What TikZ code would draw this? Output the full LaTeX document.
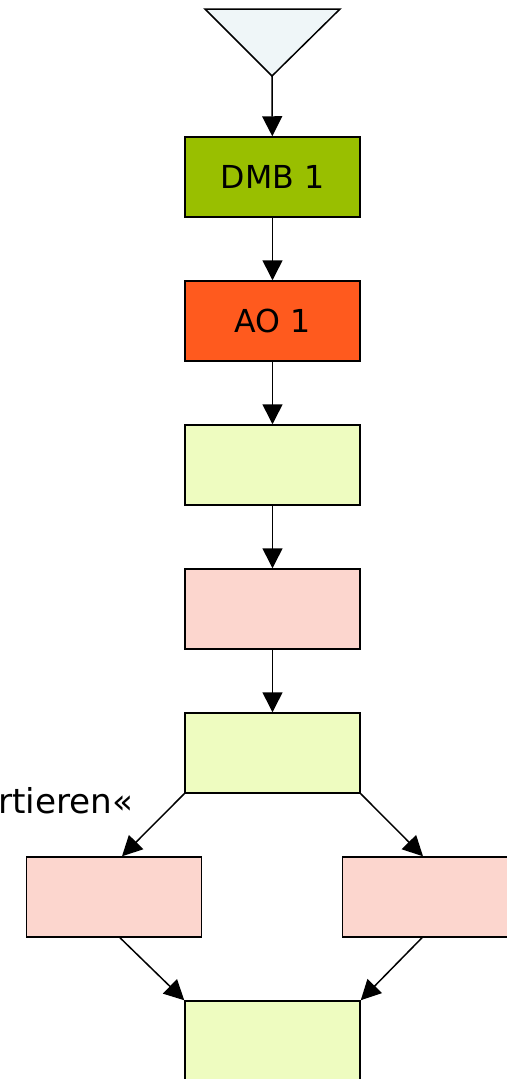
\documentclass[tikz,border=0pt]{standalone}
\usepackage{fontspec}
\setmainfont{DejaVu Sans}
\usetikzlibrary{arrows.meta, positioning}

\definecolor{dmbgreen}{HTML}{99BF00}
\definecolor{aored}{HTML}{FF5A1E}
\definecolor{palegreen}{HTML}{EEFCC0}
\definecolor{palered}{HTML}{FCD6CE}
\definecolor{paleblue}{HTML}{EFF6F8}

\begin{document}
\begin{tikzpicture}[>={Triangle[length=0.4cm, width=0.4cm]},
box/.style={rectangle, draw=black, line width=0.85pt, minimum width=3.5cm, minimum height=1.6cm, font=\fontsize{18}{20}\selectfont},
flow/.style={->, line width=0.85pt}]
\tikzstyle{okbox}=[box, fill=palegreen]
\tikzstyle{failbox}=[box, fill=palered]
\useasboundingbox (0,0) rectangle (10.14,-21.58);
\clip (0,0) rectangle (10.14,-21.58);
      \def\fy{2.88}
      \def\fx{5.45}
%start
\fill[paleblue] (4.1,-0.18) -- (6.8,-0.18) -- (5.44,-1.52) -- cycle;
\draw[line width=0.85pt] (4.1,-0.18) -- (6.8,-0.18) -- (5.44,-1.52) -- cycle;
\coordinate (start) at (5.44,-1.52);
%chain
\node[box, fill=dmbgreen] (dmb) at (\fx,-3.54) {DMB 1};
\node[box, fill=aored] (ao) at (\fx,-3.54-1*\fy) {AO 1};
\node[okbox] (check) at (\fx,-3.54-2*\fy) {};
\node[failbox] (fail) at (\fx,-3.54-3*\fy) {};
\node[okbox] (split) at (\fx,-3.54-4*\fy) {};
\node[failbox] (left) at (2.28,-3.54-5*\fy) {};
\node[failbox] (right) at (8.6,-3.54-5*\fy) {};
\node[okbox] (join) at (\fx,-3.54-6*\fy) {};
\node[font=\fontsize{19.5}{22}\selectfont, anchor=base east, inner sep=0pt] (label) at (2.68,-16.26) {rtieren«};

\draw[flow] (start) -- (dmb);
\draw[flow] (dmb) -- (ao);
\draw[flow] (ao) -- (check);
\draw[flow] (check) -- (fail);
\draw[flow] (fail) -- (split);
\draw[flow] (split.south west) -- ([xshift=0.16cm]left.north);
\draw[flow] (split.south east) -- ([xshift=-0.14cm]right.north);
\draw[flow] ([xshift=0.12cm]left.south) -- (join.north west);
\draw[flow] ([xshift=-0.16cm]right.south) -- (join.north east);
\end{tikzpicture}
\end{document}
